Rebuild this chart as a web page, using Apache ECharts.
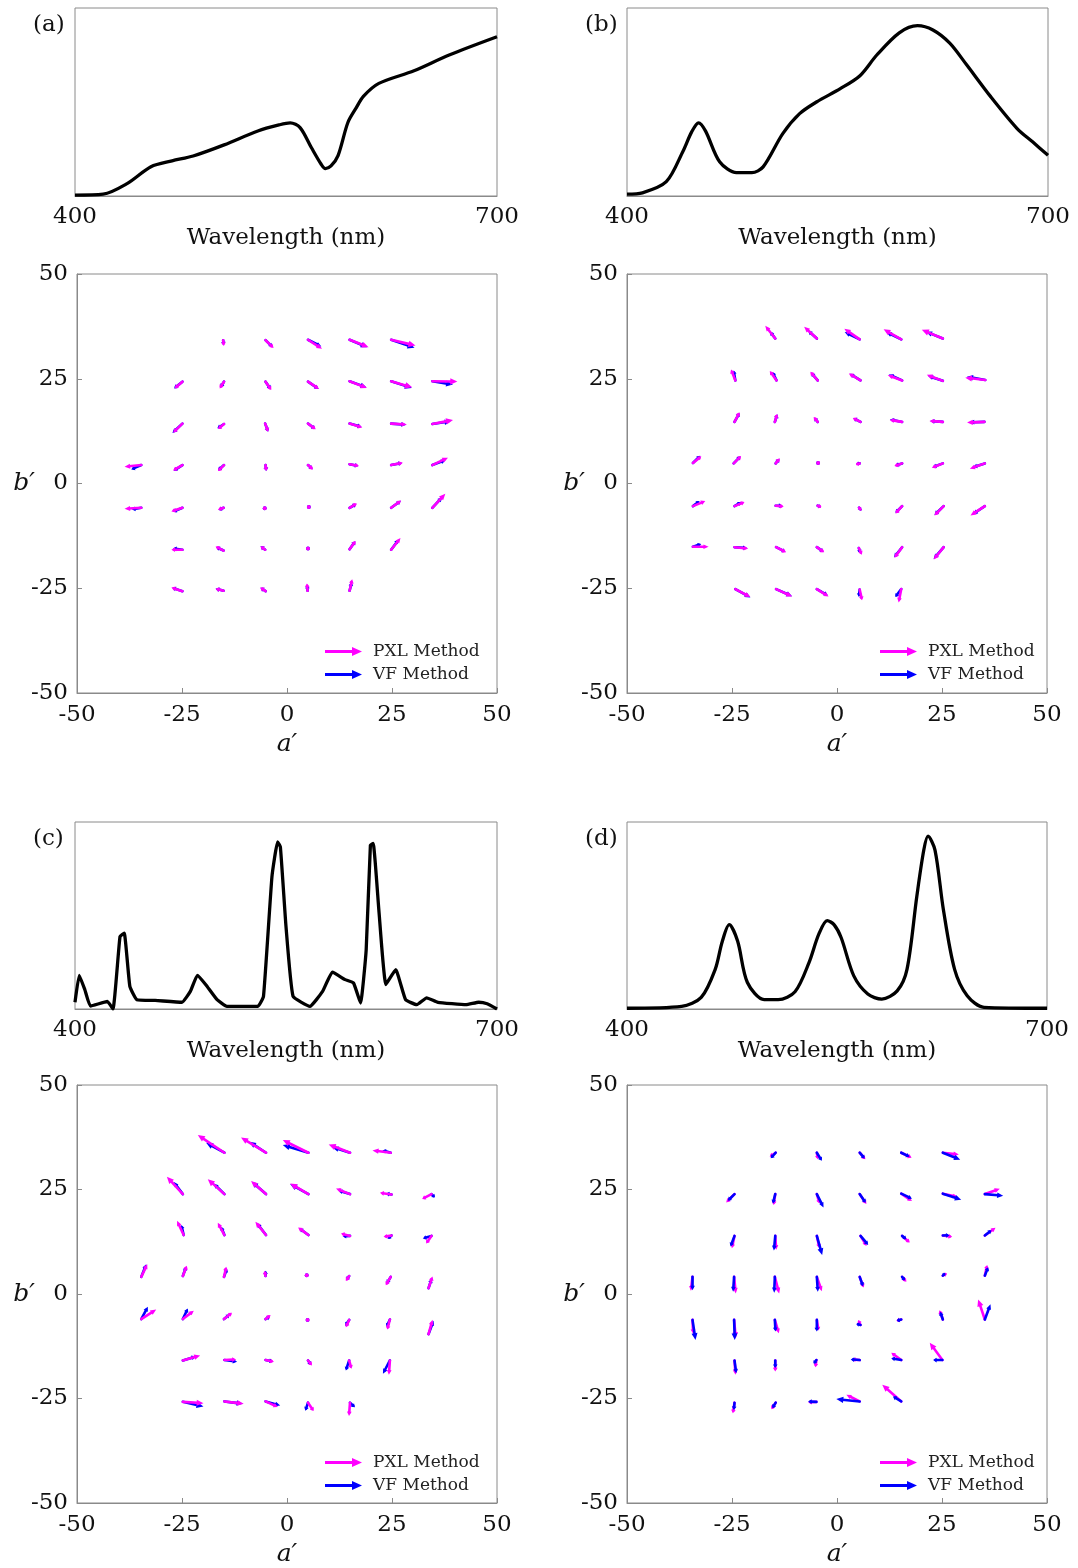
<!DOCTYPE html>
<html>
<head>
<meta charset="utf-8">
<script src="https://cdn.jsdelivr.net/npm/echarts@6/dist/echarts.min.js"></script>
<style>
html,body{margin:0;padding:0;background:#fff;}
#chart{width:1078px;height:1568px;}
</style>
</head>
<body>
<div id="chart"></div>
<script>
// ---------- Spectra (normalised relative power) ----------
const specAWl  = [400,420,437,454,469,484,506,530,545,553,560,568,575,578,582,587,594,600,605,616,641,666,700];
const specAVal = [0.005,0.01,0.066,0.156,0.187,0.213,0.272,0.346,0.378,0.389,0.364,0.258,0.169,0.146,0.16,0.215,0.391,0.47,0.53,0.599,0.666,0.75,0.847];

const specBWl  = [400,411,428,440,446,451,456,466,478,489,497,511,523,535,552,566,578,594,607,618,630,642,659,678,689,700];
const specBVal = [0.01,0.017,0.076,0.24,0.34,0.389,0.345,0.182,0.124,0.124,0.155,0.332,0.438,0.5,0.571,0.64,0.75,0.868,0.906,0.883,0.813,0.698,0.53,0.359,0.288,0.217];

const specCWl  = [400,403,407,411,423,427,432,435,439,444,457,476,482,487,493,501,508,530,534,540,544,546,550,555,567,576,583,592,598,603,607,610,612,616,621,628,635,643,650,658,678,687,693,700];
const specCVal = [0.036,0.18,0.103,0.016,0.04,0,0.388,0.405,0.121,0.05,0.046,0.036,0.094,0.18,0.13,0.05,0.014,0.014,0.068,0.707,0.893,0.867,0.44,0.068,0.014,0.094,0.197,0.157,0.139,0.032,0.316,0.876,0.885,0.53,0.131,0.21,0.05,0.023,0.06,0.036,0.023,0.036,0.028,0];

const specDWl  = [400,439,453,463,468,473,479,486,498,508,520,530,537,543,548,553,562,572,582,593,600,607,612,615,620,626,634,643,655,700];
const specDVal = [0.004,0.014,0.062,0.212,0.36,0.451,0.363,0.142,0.05,0.05,0.092,0.248,0.4,0.473,0.45,0.381,0.177,0.08,0.053,0.097,0.212,0.602,0.85,0.924,0.85,0.531,0.212,0.071,0.009,0.004];

// ---------- Quiver (a) ----------
const qaBaseA = [-15.2,-5.1,5.0,14.9,24.8, -24.9,-15.0,-5.1,5.0,14.9,24.8,34.6, -24.9,-15.0,-5.2,5.0,14.9,24.8,34.6, -34.7,-24.9,-15.0,-5.1,5.0,14.9,24.8,34.6, -34.7,-24.9,-15.1,-5.3,5.2,14.9,24.8,34.6, -24.9,-15.1,-5.2,5.0,14.9,24.8, -24.9,-15.1,-5.1,4.9,14.9];
const qaBaseB = [34.2,34.2,34.3,34.3,34.3, 24.3,24.3,24.3,24.3,24.4,24.4,24.4, 14.3,14.2,14.3,14.3,14.3,14.3,14.2, 4.4,4.4,4.4,4.4,4.4,4.6,4.4,4.4, -5.8,-5.8,-5.8,-5.9,-5.6,-5.8,-5.8,-5.8, -15.8,-16.0,-15.8,-15.5,-15.7,-15.8, -25.7,-25.6,-25.7,-25.6,-25.6];
const qaPxlU = [0.16,1.9,3.33,4.52,5.79, -1.83,-1.03,1.35,2.62,4.13,5.0,5.95, -2.22,-1.43,0.71,1.83,3.02,3.73,4.92, -3.97,-2.22,-1.43,0.16,1.19,2.22,2.78,3.73, -3.97,-2.62,-1.35,-0.2,0.1,1.75,2.38,3.1, -2.62,-1.9,-1.11,0,1.43,2.22, -2.62,-1.9,-1.27,-0.16,0.63];
const qaPxlV = [-1.36,-1.84,-2.16,-1.76,-1.36, -1.6,-1.6,-2.0,-1.76,-1.6,-1.44,-0.08, -2.16,-1.2,-1.92,-1.36,-0.96,-0.24,0.96, -0.4,-1.28,-1.44,-1.44,-1.04,-0.4,0.56,1.76, -0.24,-0.88,-0.48,-0.2,-0.2,1.04,1.76,3.36, 0,0.96,0.8,0.3,2.0,2.8, 0.88,0.48,0.88,1.76,2.72];
const qaVfU = [0.1,1.6,3.17,4.13,5.56, -1.98,-0.8,1.19,2.54,3.97,4.92,4.92, -2.38,-1.59,0.71,1.7,2.86,3.6,4.37, -2.38,-2.06,-1.43,0.16,1.1,2.1,2.6,3.17, -2.22,-2.22,-1.2,-0.2,0.1,1.6,2.3,2.38, -2.22,-1.75,-1.1,0,1.35,1.75, -2.38,-1.9,-1.2,-0.1,0.5];
const qaVfV = [-1.1,-1.6,-1.6,-1.76,-1.92, -1.6,-1.36,-1.76,-1.76,-1.44,-1.6,-0.8, -2.24,-1.04,-1.92,-1.3,-0.8,-0.3,0.64, -1.04,-1.36,-1.28,-1.44,-1.0,-0.4,0.5,1.2, -0.4,-0.96,-0.5,-0.2,-0.2,0.9,1.7,2.56, 0.32,0.8,0.8,0.2,1.9,2.4, 0.8,0.48,0.8,1.4,2.0];

// ---------- Quiver (b) ----------
const qbBaseA = [-14.7,-4.8,5.4,15.3,25.2, -24.2,-14.4,-4.6,5.6,15.5,25.2,35.3, -24.4,-14.8,-4.6,5.6,15.5,25.2,35.1, -34.3,-24.6,-14.6,-4.5,5.4,15.5,25.2,35.2, -34.3,-24.4,-14.6,-4.6,5.6,15.5,25.4,35.2, -34.3,-24.4,-14.5,-4.8,5.2,15.5,25.4, -24.2,-14.5,-4.8,5.4,15.3];
const qbBaseB = [34.6,34.6,34.4,34.4,34.6, 24.6,24.6,24.6,24.6,24.6,24.5,24.7, 14.7,14.7,14.7,14.7,14.7,14.7,14.7, 4.9,4.8,4.8,4.9,4.8,4.8,4.8,4.8, -5.4,-5.4,-5.3,-5.3,-6.2,-5.4,-5.4,-5.4, -15.1,-15.2,-15.2,-15.2,-15.4,-15.2,-15.2, -25.2,-25.2,-25.2,-25.3,-25.2];
const qbPxlU = [-2.38,-3.02,-3.65,-4.2,-5.0, -1.03,-1.59,-1.75,-2.78,-3.41,-3.81,-4.76, 1.19,0.56,-0.95,-1.83,-2.94,-3.17,-4.13, 1.98,1.75,0.95,0.1,-0.8,-1.83,-2.62,-3.57, 2.94,2.38,1.9,0.8,-0.5,-1.59,-2.22,-3.41, 3.73,3.25,2.38,1.75,0.71,-1.83,-2.38, 3.57,3.81,2.78,0.56,-0.63];
const qbPxlV = [3.03,2.79,2.55,2.39,2.07, 2.63,2.23,2.07,1.67,1.27,1.43,0.56, 2.31,1.91,1.2,0.96,0.48,0.24,-0.16, 1.59,1.75,1.2,0.1,-0.24,-0.64,-1.04,-1.27, 1.2,0.96,-0.16,-0.3,0.6,-1.75,-2.23,-2.23, 0,-0.32,-1.2,-1.2,-1.59,-2.55,-2.95, -1.91,-1.75,-1.75,-2.55,-3.19];
const qbVfU = [-1.19,-2.0,-3.57,-3.57,-3.97, -0.4,-0.95,-1.5,-2.54,-3.17,-3.57,-4.37, 1.19,0.6,-0.8,-1.7,-2.9,-3.0,-3.6, 1.75,1.6,0.9,0.1,-0.6,-1.6,-2.4,-2.8, 1.59,1.59,1.6,0.5,-0.5,-1.6,-2.2,-2.8, 1.98,3.0,2.2,1.6,0.3,-1.9,-2.4, 3.6,3.8,2.6,-0.2,-1.43];
const qbVfV = [1.59,1.8,1.75,1.75,1.6, 2.39,2.0,1.8,1.59,1.43,1.2,0.8, 2.15,1.8,1.0,0.9,0.6,0.2,-0.1, 1.75,1.7,1.1,0.1,-0.1,-0.5,-0.9,-0.9, 1.2,0.96,0,-0.2,0.6,-1.6,-2.1,-1.9, 0.64,-0.2,-1.1,-1.1,-1.2,-2.4,-2.8, -2.0,-1.7,-1.5,-1.8,-1.91];

// ---------- Quiver (c) ----------
const qcBaseA = [-14.9,-5.0,5.1,15.0,24.7, -24.8,-14.9,-5.0,5.1,15.0,24.9,34.4, -24.6,-14.9,-5.0,5.1,15.0,24.9,34.4, -34.7,-24.8,-15.0,-5.1,4.7,14.8,24.7,33.7, -34.7,-24.8,-15.0,-5.1,4.9,14.8,24.5,33.7, -24.8,-14.9,-5.1,5.0,14.8,24.5, -24.8,-14.9,-5.1,5.0,15.0];
const qcBaseB = [33.8,33.8,33.8,33.8,33.8, 23.9,23.9,23.9,23.9,23.9,23.8,23.9, 14.1,14.1,14.1,14.1,13.9,14.0,13.9, 4.1,4.3,4.1,4.3,4.5,4.3,4.1,1.4, -6.0,-6.0,-6.0,-6.0,-6.2,-6.2,-6.1,-9.6, -15.9,-15.8,-15.8,-15.9,-15.9,-15.9, -25.8,-25.7,-25.7,-26.0,-26.0];
const qcPxlU = [-6.33,-5.94,-6.1,-5.07,-4.35, -3.8,-3.96,-3.56,-4.35,-3.33,-2.77,-2.22, -1.58,-1.58,-2.53,-2.45,-2.14,-1.9,-1.27, 1.43,0.95,0.55,-0.24,0,-0.79,-1.19,0.95, 3.56,2.61,1.9,1.19,0,-0.79,-0.63,0.95, 4.12,2.77,1.98,0.95,0.55,-0.24, 4.91,4.59,2.93,1.35,-0.24];
const qcPxlV = [4.22,3.66,3.03,1.99,0.56, 4.14,3.58,3.11,2.55,1.35,0.4,-1.19, 3.42,2.95,3.18,1.83,0.56,-0.32,-1.83, 3.03,2.47,2.39,1.19,0.2,-1.19,-1.99,2.79, 2.31,1.99,1.51,0.96,0.2,-1.75,-2.39,3.42, 1.19,0.16,-0.4,-1.19,-1.99,-3.42, -0.32,-0.56,-1.35,-1.99,-3.18];
const qcVfU = [-4.35,-3.96,-6.1,-4.12,-1.98, -2.22,-2.61,-3.33,-4.35,-2.69,-1.35,0.79, -0.55,-0.79,-2.22,-2.14,-1.74,-0.95,-2.06, 1.19,0.79,0.71,0,0,-0.63,-0.95,0.71, 1.58,1.19,1.35,0.95,0,-0.95,-0.79,1.19, 3.17,3.01,1.74,0.71,-0.79,-1.66, 4.91,4.35,3.48,-0.63,1.19];
const qcVfV = [2.39,2.63,1.83,1.27,0.56, 2.95,2.55,2.95,2.39,0.8,0.24,-0.8, 2.39,1.99,2.95,1.59,-0.08,-0.8,-0.64, 3.03,2.23,1.99,1.27,0.2,-0.96,-1.59,2.15, 2.95,2.55,1.11,0.56,0.2,-1.43,-1.75,3.18, 0.96,-0.4,-0.32,-1.04,-2.39,-3.18, -1.11,-0.56,-0.96,-1.91,-1.11];

// ---------- Quiver (d) ----------
const qdBaseA = [-14.6,-4.8,5.4,15.3,25.2, -24.4,-14.7,-4.8,5.4,15.3,25.2,35.2, -24.4,-14.7,-4.8,5.6,15.5,25.2,35.2, -34.4,-24.5,-14.8,-4.8,5.4,15.5,25.2,35.2, -34.4,-24.5,-14.8,-4.8,5.6,15.3,25.2,35.2, -24.4,-14.7,-4.9,5.4,15.3,25.1, -24.4,-14.6,-4.9,5.4,15.3];
const qdBaseB = [33.8,33.8,33.8,33.8,33.8, 23.9,23.9,23.9,23.9,24.0,24.0,23.9, 13.9,13.9,13.9,13.9,13.9,14.0,14.0, 4.1,4.1,4.1,4.1,4.1,4.1,4.4,4.4, -6.2,-6.2,-6.2,-6.2,-7.4,-6.1,-6.1,-6.1, -15.9,-15.9,-15.8,-15.8,-15.8,-15.8, -26.0,-26.0,-25.8,-25.7,-25.7];
const qdPxlU = [-1.43,0.24,1.35,2.46,3.81, -1.98,-0.4,0.63,1.59,2.54,3.57,3.57, -0.63,0.24,0.63,1.43,1.83,2.22,2.54, -0.4,0.4,1.03,1.19,0.95,1.03,0.95,0.56, 0.16,0.4,0.95,0.4,-0.56,-1.19,-0.79,-1.59, 0.24,0,-0.24,-1.83,-2.38,-3.02, -0.4,-1.03,-1.98,-3.17,-4.52];
const qdPxlV = [-0.96,-1.59,-1.59,-1.19,-0.4, -1.99,-2.63,-2.23,-2.39,-1.75,-0.8,1.27, -2.95,-3.34,-2.95,-2.39,-1.59,-0.32,1.83, -3.34,-3.98,-3.98,-3.42,-2.55,-1.19,0.56,2.55, -3.34,-4.38,-3.18,-2.55,1.19,-0.32,2.23,4.78, -3.42,-2.63,-1.75,0.16,1.75,4.14, -2.55,-1.59,-0.08,1.59,3.98];
const qdVfU = [-1.19,1.19,1.2,1.98,4.13, -1.59,-0.56,1.59,1.43,2.54,4.37,4.37, -0.95,-0.32,1.27,1.83,1.03,1.59,1.59, 0,-0.24,-0.16,0.24,0.79,0.63,0.4,0.79, 0.71,0.16,0.16,0,-0.95,-1.03,-0.63,1.35, 0.4,0,-0.63,-2.14,-2.38,-2.22, -0.16,-0.79,-1.98,-5.56,-1.98];
const qdVfV = [-1.35,-1.91,-1.4,-0.96,-1.67, -1.59,-2.23,-3.18,-2.07,-1.19,-1.43,-0.4, -2.55,-3.5,-4.54,-2.15,-0.8,0.08,1.27, -3.18,-3.58,-3.82,-3.58,-2.23,-0.8,0.4,1.99, -4.78,-4.78,-2.79,-2.79,0.24,-0.32,1.83,3.66, -3.03,-1.83,-0.8,0.16,0.4,0, -1.75,-1.35,0.08,0.56,1.19];

const panelLabels = ['(a)','(b)','(c)','(d)'];
const quiverTicks = [-50,-25,0,25,50];
const methodNames = ['PXL Method','VF Method'];

// ---------- chart ----------
const SERIF = '"DejaVu Serif","Liberation Serif",serif';
const PINK = '#ff00ff', BLUE = '#0000ff';
const FRAME = '#8a8a8a';

const spectra = [[specAWl,specAVal],[specBWl,specBVal],[specCWl,specCVal],[specDWl,specDVal]];
const quivers = [
  [qaBaseA,qaBaseB,qaPxlU,qaPxlV,qaVfU,qaVfV],
  [qbBaseA,qbBaseB,qbPxlU,qbPxlV,qbVfU,qbVfV],
  [qcBaseA,qcBaseB,qcPxlU,qcPxlV,qcVfU,qcVfV],
  [qdBaseA,qdBaseB,qdPxlU,qdPxlV,qdVfU,qdVfV]
];
// which method is drawn on top in each panel
const pinkOnTop = [true, true, true, false];

const specGrid = [
  {left:75, top:8, width:422, height:188},
  {left:627, top:8, width:421, height:188},
  {left:75, top:822, width:422, height:187},
  {left:627, top:822, width:420, height:187}
];
const quivGrid = [
  {left:77, top:274, width:420, height:419},
  {left:627, top:274, width:420, height:419},
  {left:77, top:1085, width:420, height:420},
  {left:627, top:1085, width:420, height:420}
];
const titlePos = [[28,9],[580,9],[28,823],[580,823]];
const legendPos = [[325,643],[880,643],[325,1454],[880,1454]];

function arrowItem(params, api) {
  const x = api.value(0), y = api.value(1), u = api.value(2), v = api.value(3);
  const p0 = api.coord([x, y]);
  const p1 = api.coord([x + u, y + v]);
  const color = api.visual('color');
  const lw = 2.6;
  const dx = p1[0] - p0[0], dy = p1[1] - p0[1];
  const len = Math.hypot(dx, dy);
  if (len < 2) {
    return {type:'circle', shape:{cx:p0[0], cy:p0[1], r:lw*0.75}, style:{fill:color}};
  }
  const ux = dx / len, uy = dy / len;
  let hl = Math.min(Math.max(len * 0.33, 3.5), 7);
  hl = Math.min(hl, len * 0.6);
  const hw = Math.max(hl * 0.45, lw * 0.9);
  const bx = p1[0] - ux * hl, by = p1[1] - uy * hl;
  return {
    type:'group',
    children:[
      {type:'line', shape:{x1:p0[0], y1:p0[1], x2:bx + ux, y2:by + uy},
       style:{stroke:color, lineWidth:lw, lineCap:'round'}},
      {type:'polygon', shape:{points:[[p1[0],p1[1]],[bx - uy*hw, by + ux*hw],[bx + uy*hw, by - ux*hw]]},
       style:{fill:color}}
    ]
  };
}

const grids = [], xAxes = [], yAxes = [], series = [], titles = [], legends = [];

for (let p = 0; p < 4; p++) {
  // spectrum grid
  const gs = grids.length;
  grids.push(Object.assign({show:true, borderColor:FRAME, borderWidth:1, backgroundColor:'#fff'}, specGrid[p]));
  xAxes.push({
    gridIndex: gs, type:'value', min:400, max:700, interval:300,
    name:'Wavelength (nm)', nameLocation:'middle', nameGap:31, nameMoveOverlap:false,
    nameTextStyle:{fontFamily:SERIF, fontSize:23, color:'#111'},
    axisLine:{show:true, onZero:false, lineStyle:{color:FRAME}},
    axisTick:{show:false}, splitLine:{show:false},
    axisLabel:{fontFamily:SERIF, fontSize:23, color:'#111', margin:10}
  });
  yAxes.push({gridIndex: gs, type:'value', min:0, max:1, show:false});
  series.push({
    type:'line', xAxisIndex: gs, yAxisIndex: gs,
    data: spectra[p][0].map((w,i)=>[w, spectra[p][1][i]]),
    showSymbol:false, smooth: p === 2 ? 0.12 : 0.3,
    lineStyle:{color:'#000', width:3.3}, silent:true, animation:false, clip:true
  });

  // quiver grid
  const gq = grids.length;
  grids.push(Object.assign({show:true, borderColor:FRAME, borderWidth:1, backgroundColor:'#fff'}, quivGrid[p]));
  xAxes.push({
    gridIndex: gq, type:'value', min:quiverTicks[0], max:quiverTicks[4], interval:25,
    name:'a\u2032', nameLocation:'middle', nameGap:39, nameMoveOverlap:false,
    nameTextStyle:{fontFamily:SERIF, fontSize:25, fontStyle:'italic', color:'#111'},
    axisLine:{show:true, onZero:false, lineStyle:{color:FRAME}},
    axisTick:{show:true, inside:true, length:5, lineStyle:{color:FRAME}},
    splitLine:{show:false},
    axisLabel:{fontFamily:SERIF, fontSize:23, color:'#111', margin:11}
  });
  yAxes.push({
    gridIndex: gq, type:'value', min:quiverTicks[0], max:quiverTicks[4], interval:25,
    name:'b\u2032', nameLocation:'middle', nameGap:42, nameRotate:0, nameMoveOverlap:false,
    nameTextStyle:{fontFamily:SERIF, fontSize:25, fontStyle:'italic', color:'#111'},
    axisLine:{show:true, onZero:false, lineStyle:{color:FRAME}},
    axisTick:{show:true, inside:true, length:5, lineStyle:{color:FRAME}},
    splitLine:{show:false},
    axisLabel:{fontFamily:SERIF, fontSize:23, color:'#111', margin:9}
  });
  const q = quivers[p];
  const pxl = q[0].map((a,i)=>[a, q[1][i], q[2][i], q[3][i]]);
  const vf  = q[0].map((a,i)=>[a, q[1][i], q[4][i], q[5][i]]);
  const zP = pinkOnTop[p] ? 5 : 3, zV = pinkOnTop[p] ? 3 : 5;
  series.push({
    type:'custom', name:methodNames[0], xAxisIndex:gq, yAxisIndex:gq,
    renderItem: arrowItem, data: pxl, encode:{x:0, y:1},
    itemStyle:{color:PINK}, animation:false, silent:true, z:zP
  });
  series.push({
    type:'custom', name:methodNames[1], xAxisIndex:gq, yAxisIndex:gq,
    renderItem: arrowItem, data: vf, encode:{x:0, y:1},
    itemStyle:{color:BLUE}, animation:false, silent:true, z:zV
  });

  titles.push({
    text: panelLabels[p], left: titlePos[p][0], top: titlePos[p][1],
    textStyle:{fontFamily:SERIF, fontSize:23, fontWeight:'normal', color:'#111'}
  });
  legends.push({
    data: methodNames, left: legendPos[p][0], top: legendPos[p][1],
    orient:'vertical', itemWidth:37, itemHeight:9, itemGap:6, padding:0,
    icon:'path://M0,3 L27,3 L27,0 L37,4.5 L27,9 L27,6 L0,6 Z',
    textStyle:{fontFamily:SERIF, fontSize:17, color:'#222', padding:[0,0,0,6]},
    selectedMode:false
  });
}

const chart = echarts.init(document.getElementById('chart'), null, {renderer:'canvas'});
chart.setOption({
  backgroundColor:'#fff',
  animation:false,
  title: titles,
  legend: legends,
  grid: grids,
  xAxis: xAxes,
  yAxis: yAxes,
  series: series
});
</script>
</body>
</html>
